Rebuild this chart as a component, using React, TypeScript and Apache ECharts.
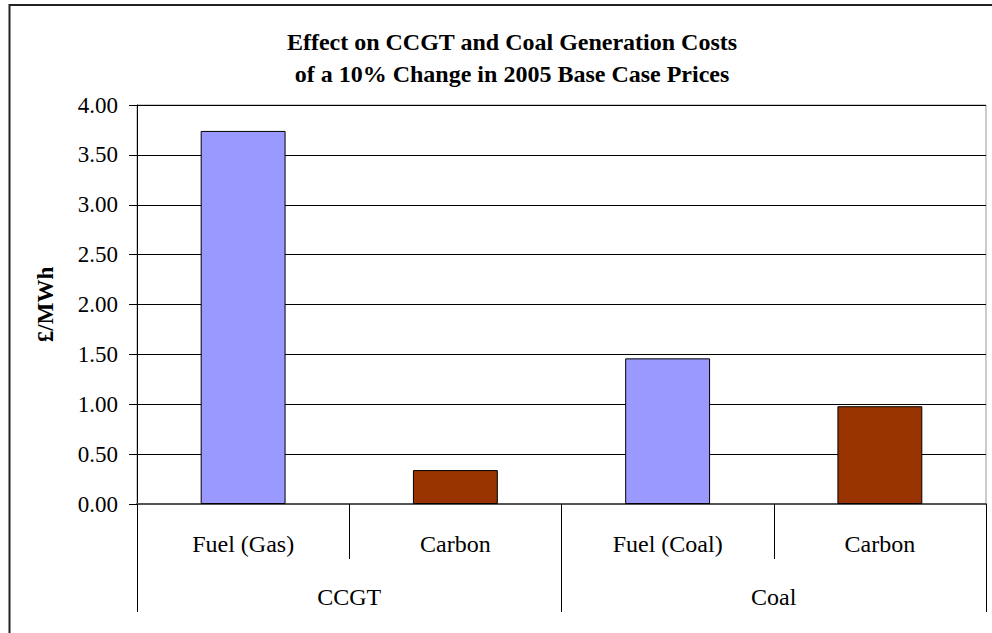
import React, { useEffect, useRef } from "react";
import * as echarts from "echarts";

const titleLines = ["Effect on CCGT and Coal Generation Costs", "of a 10% Change in 2005 Base Case Prices"];
const categories = ["Fuel (Gas)", "Carbon", "Fuel (Coal)", "Carbon"];
const groups = ["CCGT", "Coal"];
const values = [3.74, 0.34, 1.46, 0.98];
const barColors = ["#9999FF", "#993300", "#9999FF", "#993300"];
const yAxisName = "£/MWh";

const FONT = "Liberation Serif";

export default function App() {
  const ref = useRef<HTMLDivElement>(null);
  useEffect(() => {
    document.body.style.margin = "0";
    const chart = echarts.init(ref.current!, null, { renderer: "svg" });
    chart.setOption({
      animation: false,
      backgroundColor: "#fff",
      textStyle: { fontFamily: FONT },
      title: {
        text: titleLines.join("\n"),
        left: 507,
        top: 21,
        textAlign: "center",
        textStyle: { fontFamily: FONT, fontWeight: "bold", fontSize: 24, lineHeight: 32, color: "#000" },
      },
      graphic: [
        {
          type: "rect",
          shape: { x: 9.5, y: 5, width: 1000, height: 700 },
          style: { fill: "none", stroke: "#222", lineWidth: 2 },
          silent: true,
          z: 100,
        },
      ],
      grid: {
        left: 137,
        right: 6,
        top: 105,
        bottom: 129,
        show: true,
        borderColor: "#999",
        borderWidth: 1,
        containLabel: false,
      },
      xAxis: [
        {
          type: "category",
          data: categories,
          position: "bottom",
          axisLine: { show: true, onZero: false, lineStyle: { color: "#555", width: 2 } },
          axisTick: { show: true, interval: 0, length: 55, lineStyle: { color: "#000", width: 1 } },
          axisLabel: { interval: 0, margin: 28, fontFamily: FONT, fontSize: 24, color: "#000" },
          splitLine: { show: false },
        },
        {
          type: "category",
          data: groups,
          position: "bottom",
          axisLine: { show: false, onZero: false },
          axisTick: { show: true, interval: 0, length: 108, lineStyle: { color: "#000", width: 1 } },
          axisLabel: { interval: 0, margin: 81, fontFamily: FONT, fontSize: 24, color: "#000" },
          splitLine: { show: false },
        },
      ],
      yAxis: {
        type: "value",
        min: 0,
        max: 4,
        interval: 0.5,
        name: yAxisName,
        nameLocation: "middle",
        nameRotate: 90,
        nameGap: 80,
        nameTextStyle: { fontFamily: FONT, fontWeight: "bold", fontSize: 23, color: "#000" },
        axisLine: { show: true, lineStyle: { color: "#000", width: 1 } },
        axisTick: { show: true, length: 8, lineStyle: { color: "#000" } },
        axisLabel: {
          margin: 19,
          fontFamily: FONT,
          fontSize: 23,
          color: "#000",
          formatter: (v: number) => v.toFixed(2),
        },
        splitLine: { show: true, lineStyle: { color: "#000", width: 1 } },
      },
      series: [
        {
          type: "bar",
          xAxisIndex: 0,
          barWidth: "40%",
          data: values.map((v, i) => ({
            value: v,
            itemStyle: { color: barColors[i], borderColor: "#000", borderWidth: 1 },
          })),
        },
      ],
    });
    return () => chart.dispose();
  }, []);
  return <div ref={ref} style={{ width: 992, height: 633 }} />;
}
